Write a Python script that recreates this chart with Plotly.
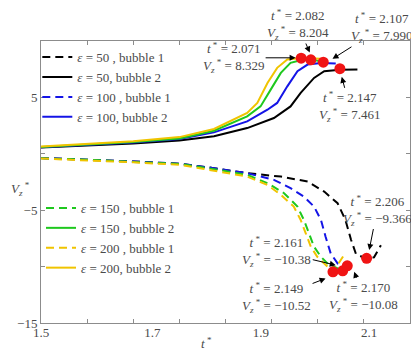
import plotly.graph_objects as go

# ---------------- data ----------------
# bubble 2 (solid, rising)
t_b2_e50 = [1.50, 1.60, 1.70, 1.80, 1.875, 1.947, 2.005, 2.041, 2.063, 2.092, 2.114, 2.148, 2.186]
v_b2_e50 = [0.55, 0.72, 0.92, 1.18, 1.55, 2.28, 3.17, 4.20, 5.40, 6.73, 7.32, 7.46, 7.47]
t_b2_e100 = [1.50, 1.60, 1.70, 1.80, 1.875, 1.947, 1.991, 2.012, 2.034, 2.056, 2.078, 2.107, 2.139]
v_b2_e100 = [0.58, 0.78, 1.00, 1.31, 1.90, 2.87, 3.91, 4.51, 5.98, 7.32, 7.91, 8.05, 8.00]
t_b2_e150 = [1.50, 1.60, 1.70, 1.80, 1.875, 1.947, 1.976, 1.998, 2.020, 2.041, 2.063, 2.085, 2.107, 2.114]
v_b2_e150 = [0.60, 0.82, 1.05, 1.36, 2.05, 3.32, 4.20, 5.69, 7.17, 8.06, 8.29, 8.36, 8.20, 7.76]
t_b2_e200 = [1.50, 1.60, 1.70, 1.80, 1.875, 1.947, 1.969, 1.991, 2.012, 2.034, 2.063, 2.107]
v_b2_e200 = [0.65, 0.88, 1.12, 1.48, 2.20, 3.62, 4.51, 6.28, 7.62, 8.36, 8.50, 8.42]

# bubble 1 (dashed, falling)
t_b1_e50 = [1.50, 1.60, 1.70, 1.802, 1.875, 1.947, 2.020, 2.078, 2.114, 2.143, 2.160, 2.172, 2.183, 2.206, 2.222, 2.237]
v_b1_e50 = [-0.38, -0.50, -0.68, -0.89, -1.27, -1.72, -2.02, -2.46, -3.35, -4.38, -5.87, -7.60, -8.90, -9.30, -9.18, -8.10]
t_b1_e100 = [1.50, 1.60, 1.70, 1.802, 1.875, 1.947, 2.005, 2.041, 2.070, 2.092, 2.107, 2.117, 2.128, 2.143, 2.164, 2.179]
v_b1_e100 = [-0.38, -0.50, -0.68, -0.89, -1.27, -1.72, -2.31, -3.05, -3.80, -4.68, -5.87, -7.35, -8.83, -9.72, -10.08, -10.06]
t_b1_e150 = [1.50, 1.60, 1.70, 1.802, 1.875, 1.947, 1.991, 2.027, 2.056, 2.070, 2.081, 2.092, 2.107, 2.121, 2.154]
v_b1_e150 = [-0.40, -0.52, -0.72, -0.90, -1.36, -1.87, -2.60, -3.49, -4.68, -5.87, -7.05, -8.24, -9.13, -9.72, -10.37]
t_b1_e200 = [1.50, 1.60, 1.70, 1.802, 1.875, 1.947, 1.991, 2.020, 2.048, 2.063, 2.074, 2.085, 2.099, 2.114, 2.133, 2.157]
v_b1_e200 = [-0.42, -0.56, -0.76, -0.98, -1.48, -2.02, -2.76, -3.64, -4.68, -5.87, -7.05, -8.24, -9.13, -9.72, -10.46, -8.98]

# red markers (extrema)
mark_t = [2.064, 2.085, 2.112, 2.148, 2.133, 2.154, 2.164, 2.206]
mark_v = [8.48, 8.33, 8.12, 7.55, -10.46, -10.37, -9.93, -9.27]

# annotation labels: (t*, Vz*) text, arrow head (t, v), text offset (px)
ann_t_txt = ["2.082", "2.107", "2.071", "2.147", "2.206", "2.161", "2.149", "2.170"]
ann_v_txt = ["8.204", "7.990", "8.329", "7.461", "\u22129.366", "\u221210.38", "\u221210.52", "\u221210.08"]
ann_head_t = [2.0826, 2.132, 2.052, 2.152, 2.2115, 2.139, 2.117, 2.179]
ann_head_v = [8.98, 8.42, 8.51, 6.82, -8.53, -9.87, -11.05, -10.46]
ann_dx = [-12, 49, -62, 8, 8, -59, -49, 9]
ann_dy = [-28, -31, 0, 30, -40, -14, 19, 25]

# axes
x_range = [1.5, 2.3]
x_minor_ticks = [1.5, 1.6, 1.7, 1.8, 1.9, 2.0, 2.1, 2.2, 2.3]
x_label_pos = [1.5, 1.7415, 1.9765, 2.2115]
x_label_txt = ["1.5", "1.7", "1.9", "2.1"]
y_range = [-15, 10]
y_ticks = [10, 5, 0, -5, -10, -15]
y_tick_txt = ["", "5", "", "\u22125", "", "\u221215"]

# ---------------- styling ----------------
FONT = "Liberation Serif"
TXT = "#4a4a4a"
AX = "#8c8c8c"
C_BLACK = "#000000"
C_BLUE = "#1414e6"
C_GREEN = "#1ec81e"
C_YELLOW = "#f0c400"
DASH = "8px,5px"
LW = 2

fig = go.Figure()

series = [
    (t_b1_e50, v_b1_e50, C_BLACK, DASH, "<i>\u03b5</i> = 50 , bubble 1", "legend"),
    (t_b2_e50, v_b2_e50, C_BLACK, "solid", "<i>\u03b5</i> = 50, bubble 2", "legend"),
    (t_b1_e100, v_b1_e100, C_BLUE, DASH, "<i>\u03b5</i> = 100 , bubble 1", "legend"),
    (t_b2_e100, v_b2_e100, C_BLUE, "solid", "<i>\u03b5</i> = 100, bubble 2", "legend"),
    (t_b1_e150, v_b1_e150, C_GREEN, DASH, "<i>\u03b5</i> = 150 , bubble 1", "legend2"),
    (t_b2_e150, v_b2_e150, C_GREEN, "solid", "<i>\u03b5</i> = 150 , bubble 2", "legend2"),
    (t_b1_e200, v_b1_e200, C_YELLOW, DASH, "<i>\u03b5</i> = 200 , bubble 1", "legend2"),
    (t_b2_e200, v_b2_e200, C_YELLOW, "solid", "<i>\u03b5</i> = 200, bubble 2", "legend2"),
]
for t, v, c, d, name, lg in series:
    fig.add_trace(go.Scatter(x=t, y=v, mode="lines", name=name, legend=lg,
                             line=dict(color=c, width=LW, dash=d)))

fig.add_trace(go.Scatter(x=mark_t, y=mark_v, mode="markers", showlegend=False,
                         marker=dict(color="#f01414", size=11, line=dict(width=0))))

# helper trace for overlay axis carrying the labels
fig.add_trace(go.Scatter(x=[None], y=[None], xaxis="x2", showlegend=False, hoverinfo="skip"))

for i in range(len(ann_t_txt)):
    fig.add_annotation(
        x=ann_head_t[i], y=ann_head_v[i], xref="x", yref="y",
        ax=ann_dx[i], ay=ann_dy[i],
        text=f"<i>t</i><sup> *</sup> = {ann_t_txt[i]}<br><i>V<sub>z</sub></i><sup> *</sup> = {ann_v_txt[i]}",
        showarrow=True, arrowhead=2, arrowsize=1.2, arrowwidth=1, arrowcolor="#000000",
        standoff=0, font=dict(family=FONT, size=13, color=TXT), align="center",
    )

fig.add_annotation(x=-0.087, y=0.475, xref="paper", yref="paper", showarrow=False,
                   xanchor="left", yanchor="middle",
                   text="<i>V<sub>z</sub></i><sup> *</sup>",
                   font=dict(family=FONT, size=13, color=TXT))
fig.add_annotation(x=0.449, y=-0.07, xref="paper", yref="paper", showarrow=False,
                   xanchor="center", yanchor="middle",
                   text="<i>t</i><sup> *</sup>",
                   font=dict(family=FONT, size=13, color=TXT))

fig.update_layout(
    width=411, height=350,
    margin=dict(l=33, r=9, t=33, b=35),
    paper_bgcolor="white", plot_bgcolor="white",
    font=dict(family=FONT, size=13, color=TXT),
    xaxis=dict(range=x_range, tickvals=x_minor_ticks, showticklabels=False,
               ticks="inside", ticklen=4, tickcolor=AX, showline=True, linecolor=AX,
               linewidth=1, mirror="ticks", showgrid=False, zeroline=False),
    xaxis2=dict(range=x_range, overlaying="x", anchor="y", side="bottom",
                tickvals=x_label_pos, ticktext=x_label_txt, ticks="",
                showline=False, showgrid=False, zeroline=False,
                tickfont=dict(family=FONT, size=13, color=TXT)),
    yaxis=dict(range=y_range, tickvals=y_ticks, ticktext=y_tick_txt,
               ticks="inside", ticklen=4, tickcolor=AX, showline=True, linecolor=AX,
               linewidth=1, mirror="ticks", showgrid=False, zeroline=False,
               tickfont=dict(family=FONT, size=13, color=TXT)),
    legend=dict(x=-0.01, y=0.996, xanchor="left", yanchor="top", bgcolor="rgba(0,0,0,0)",
                font=dict(family=FONT, size=13, color=TXT), tracegroupgap=0),
    legend2=dict(x=0.0, y=0.461, xanchor="left", yanchor="top", bgcolor="rgba(0,0,0,0)",
                 font=dict(family=FONT, size=13, color=TXT), tracegroupgap=0),
)

fig.write_html("out.html")
